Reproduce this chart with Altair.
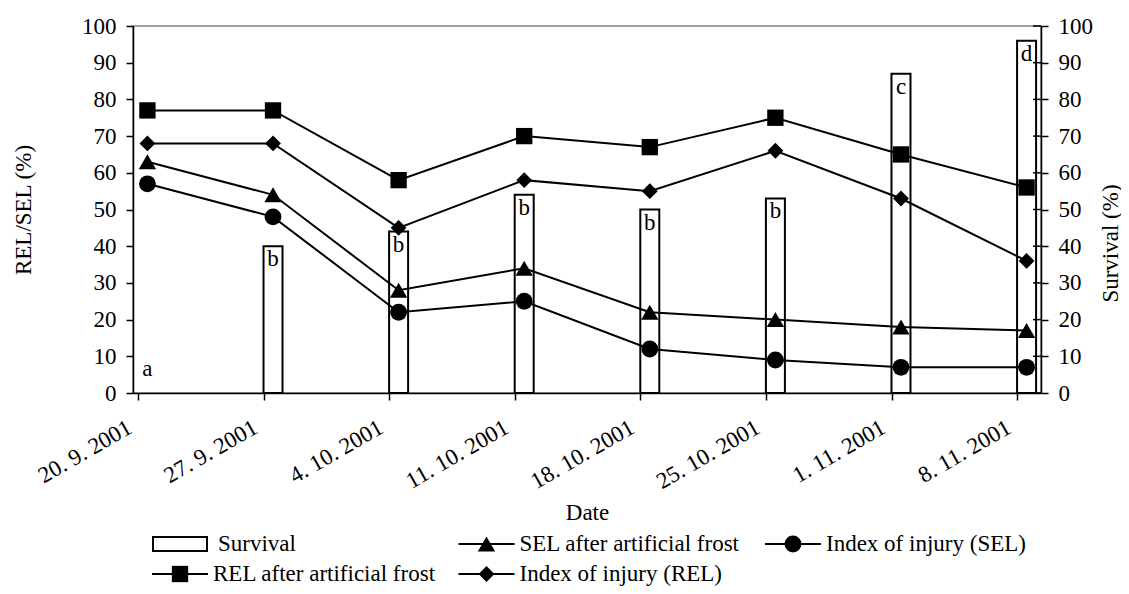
import json
import altair as alt
import pandas as pd

# ---------------- data ----------------
dates = ["20. 9. 2001", "27. 9. 2001", "4. 10. 2001", "11. 10. 2001",
         "18. 10. 2001", "25. 10. 2001", "1. 11. 2001", "8. 11. 2001"]
survival = [0, 40, 44, 54, 50, 53, 87, 96]
survival_letters = ["a", "b", "b", "b", "b", "b", "c", "d"]
sel_frost = [63, 54, 28, 34, 22, 20, 18, 17]
sel_index = [57, 48, 22, 25, 12, 9, 7, 7]
rel_frost = [77, 77, 58, 70, 67, 75, 65, 56]
rel_index = [68, 68, 45, 58, 55, 66, 53, 36]
y_ticks = list(range(0, 101, 10))

series_names = ["SEL after artificial frost", "Index of injury (SEL)",
                "REL after artificial frost", "Index of injury (REL)"]
series_shapes = ["triangle-up", "circle", "square", "diamond"]
series_values = [sel_frost, sel_index, rel_frost, rel_index]
legend_keys = ["Survival"] + series_names

# ---------------- tables ----------------
n = len(dates)
bars_df = pd.DataFrame({"idx": list(range(n)), "date": dates,
                        "survival": survival, "letter": survival_letters})
rows = []
for name, vals in zip(series_names, series_values):
    for i, v in enumerate(vals):
        rows.append({"idx": i, "series": name, "value": v})
lines_df = pd.DataFrame(rows)
ticks_df = pd.DataFrame({"survival": y_ticks})
legend_df = pd.DataFrame({"series": legend_keys})

FONT = "Liberation Serif"
FS = 23
half = 0.075  # half of the bar width in category units
tick_vals = [i - half for i in range(n)]
label_expr = json.dumps(dates) + "[round(datum.value + %s)]" % half

x_scale = alt.Scale(domain=[-half, n - 1 + half], nice=False, zero=False)
x_axis = alt.Axis(values=tick_vals, labelExpr=label_expr, title="Date",
                  labelAngle=330, labelAlign="right", labelBaseline="top",
                  labelPadding=16, labelOffset=-14, labelFlush=False,
                  labelOverlap=False, labelBound=False, tickSize=7, grid=False,
                  titleX=454, titleY=119, titleBaseline="middle")


def X():
    return alt.X("idx:Q", scale=x_scale, axis=x_axis)


y_scale_r = alt.Scale(domain=[0, 100], nice=False, zero=True)
y_axis_r = alt.Axis(values=y_ticks, title="Survival (%)", orient="right",
                    tickSize=7, labelPadding=10, grid=False, titleAngle=270,
                    titleX=69, titleY=217, titleBaseline="middle",
                    titleAlign="center")
y_scale_l = alt.Scale(domain=[0, 100], nice=False, zero=True)
y_axis_l = alt.Axis(values=y_ticks, title="REL/SEL (%)", orient="left",
                    tickSize=7, labelPadding=10, grid=False, titleAngle=270,
                    titleX=-110, titleY=183.5, titleBaseline="middle",
                    titleAlign="center")

# ---------------- survival bars (right axis) ----------------
bars = alt.Chart(bars_df).transform_filter("datum.survival > 0").mark_bar(
    size=19, fill="white", stroke="black", strokeWidth=2).encode(
    x=X(),
    y=alt.Y("survival:Q", scale=y_scale_r, axis=y_axis_r),
)
letters = alt.Chart(bars_df).transform_calculate(
    label_y="max(datum.survival, 10)"
).mark_text(font=FONT, fontSize=FS, baseline="top", align="center", dy=2,
            color="black").encode(
    x=X(),
    y=alt.Y("label_y:Q", scale=y_scale_r, axis=y_axis_r),
    text="letter:N",
)
inner_ticks = alt.Chart(ticks_df).mark_rule(color="black", strokeWidth=1.5).encode(
    x=alt.value(900), x2=alt.value(908),
    y=alt.Y("survival:Q", scale=y_scale_r, axis=y_axis_r),
)
bar_layer = alt.layer(bars, letters, inner_ticks)

# ---------------- lines (left axis) ----------------
shape_enc = alt.Shape("series:N", scale=alt.Scale(domain=series_names,
                                                  range=series_shapes),
                      legend=None)
size_enc = alt.Size("series:N", scale=alt.Scale(domain=series_names,
                                                range=[300, 250, 290, 210]),
                    legend=None)
lines = alt.Chart(lines_df).mark_line(color="black", strokeWidth=2).encode(
    x=X(),
    y=alt.Y("value:Q", scale=y_scale_l, axis=y_axis_l),
    detail="series:N",
)
points = alt.Chart(lines_df).mark_point(filled=True, color="black",
                                        opacity=1).encode(
    x=X(),
    y=alt.Y("value:Q", scale=y_scale_l, axis=y_axis_l),
    shape=shape_enc,
    size=size_enc,
)
line_layer = alt.layer(lines, points)

main = alt.layer(bar_layer, line_layer).resolve_scale(y="independent")

# ---------------- legend drawn with marks ----------------
leg_base = alt.Chart(legend_df).transform_window(
    i="row_number()"
).transform_calculate(
    col="(datum.i - 1) % 3", row="floor((datum.i - 1) / 3)"
)
lx = alt.X("col:Q", scale=alt.Scale(domain=[0, 2], range=[19, 632],
                                    nice=False, zero=False), axis=None)
ly = alt.Y("row:Q", scale=alt.Scale(domain=[0, 1], range=[518, 548],
                                    nice=False, zero=False), axis=None)
leg_series = leg_base.transform_filter("datum.series != 'Survival'")
leg_surv = leg_base.transform_filter("datum.series == 'Survival'")

leg_lines = leg_series.mark_rule(color="black", strokeWidth=2,
                                 x2Offset=56).encode(x=lx, x2="col:Q", y=ly)
leg_marks = leg_series.mark_point(filled=True, color="black", opacity=1,
                                  xOffset=28).encode(
    x=lx, y=ly, shape=shape_enc, size=size_enc)
leg_rect = leg_surv.mark_rect(fill="white", stroke="black", strokeWidth=2,
                              xOffset=1, x2Offset=55, yOffset=-7,
                              y2Offset=7).encode(x=lx, x2="col:Q", y=ly,
                                                 y2="row:Q")
leg_text = leg_series.mark_text(font=FONT, fontSize=FS, align="left",
                                baseline="middle", xOffset=61,
                                color="black").encode(x=lx, y=ly,
                                                      text="series:N")
leg_text_s = leg_surv.mark_text(font=FONT, fontSize=FS, align="left",
                                baseline="middle", xOffset=66,
                                color="black").encode(x=lx, y=ly,
                                                      text="series:N")
legend_layer = alt.layer(leg_lines, leg_marks, leg_rect, leg_text, leg_text_s)

chart = alt.layer(main, legend_layer).resolve_scale(
    x="independent", y="independent"
).properties(
    width=908, height=367,
    padding={"left": 125, "top": 18, "right": 80, "bottom": 193},
    autosize=alt.AutoSizeParams(type="none"),
).configure(
    font=FONT
).configure_view(
    stroke="#808080", strokeWidth=1.5
).configure_axis(
    labelFont=FONT, titleFont=FONT, labelFontSize=FS, titleFontSize=FS,
    titleFontWeight="normal", labelColor="black", titleColor="black",
    domainColor="black", tickColor="black", domainWidth=1.5, tickWidth=1.5,
)

chart.save("out.html", embed_options={"renderer": "svg", "actions": False})
